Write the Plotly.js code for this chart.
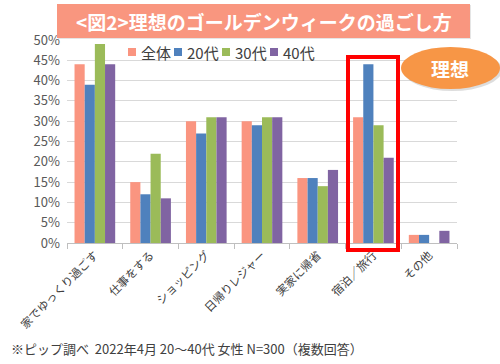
<!DOCTYPE html>
<html>
<head>
<meta charset="utf-8">
<script src="https://cdn.plot.ly/plotly-3.0.1.min.js"></script>
<style>html,body{margin:0;padding:0;background:#fff}#chart{width:500px;height:364px}</style>
</head>
<body>
<div id="chart"></div>
<script>
const categories = ["家でゆっくり過ごす","仕事をする","ショッピング","日帰りレジャー","実家に帰省","宿泊／旅行","その他"];
const seriesNames = ["全体","20代","30代","40代"];
const allAges = [0.44,0.15,0.30,0.30,0.16,0.31,0.02];
const age20 = [0.39,0.12,0.27,0.29,0.16,0.44,0.02];
const age30 = [0.49,0.22,0.31,0.31,0.14,0.29,0.00];
const age40 = [0.44,0.11,0.31,0.31,0.18,0.21,0.03];
const yTicks = [0,0.05,0.10,0.15,0.20,0.25,0.30,0.35,0.40,0.45,0.50];
const yTickText = ["0%","5%","10%","15%","20%","25%","30%","35%","40%","45%","50%"];
const titleText = "<図2>理想のゴールデンウィークの過ごし方";
const badgeText = "理想";
const noteText = "※ピップ調べ  2022年4月 20〜40代 女性 N=300（複数回答）";

const colors = ["#FA9580","#4F81BD","#9BBB59","#8064A2"];
const values = [allAges, age20, age30, age40];
const font = '"Noto Sans CJK JP", "Noto Sans", sans-serif';

const traces = values.map((v,i)=>({
  type:'bar', name: seriesNames[i], x: categories, y: v,
  marker:{color: colors[i]}, hoverinfo:'skip'
}));

// pixel -> paper helpers
const L=67, R=457, T=40, B=243;
const px = x => (x-L)/(R-L);
const py = y => (B-y)/(B-T);

const shapes = [
  {type:'rect', xref:'paper', yref:'paper', x0:px(58), x1:px(471), y0:py(39), y1:py(5),
   fillcolor:'rgba(150,150,150,0.25)', line:{width:0}, layer:'above'},
  {type:'rect', xref:'paper', yref:'paper', x0:px(57), x1:px(470), y0:py(38), y1:py(4),
   fillcolor:'#F9967F', line:{width:0}, layer:'above'},
  {type:'rect', xref:'paper', yref:'paper', x0:px(348), x1:px(398), y0:py(250), y1:py(57),
   fillcolor:'rgba(0,0,0,0)', line:{color:'#FF0000', width:4}, layer:'above'},
  {type:'circle', xref:'paper', yref:'paper', x0:px(403), x1:px(502), y0:py(91), y1:py(49),
   fillcolor:'rgba(120,120,120,0.25)', line:{width:0}, layer:'above'},
  {type:'circle', xref:'paper', yref:'paper', x0:px(401), x1:px(500), y0:py(89), y1:py(47),
   fillcolor:'#F79646', line:{width:0}, layer:'above'}
];
const annotations = [
  {text:titleText, xref:'paper', yref:'paper', x:px(264), y:py(21), showarrow:false,
   xanchor:'center', yanchor:'middle', font:{size:19, color:'#FFFFFF', family:font, weight:700}},
  {text:badgeText, xref:'paper', yref:'paper', x:px(450), y:py(68), showarrow:false,
   xanchor:'center', yanchor:'middle', font:{size:19, color:'#FFFFFF', family:font, weight:700}},
  {text:noteText, xref:'paper', yref:'paper', x:px(9), y:py(348), showarrow:false,
   xanchor:'left', yanchor:'middle', font:{size:13, color:'#404040', family:font}}
];
// custom legend
const legendX = [128, 174, 222, 270];
seriesNames.forEach((n,i)=>{
  const x0 = legendX[i];
  shapes.push({type:'rect', xref:'paper', yref:'paper', x0:px(x0), x1:px(x0+8), y0:py(56), y1:py(48),
    fillcolor:colors[i], line:{width:0}});
  annotations.push({text:n, xref:'paper', yref:'paper', x:px(x0+11), y:py(52), showarrow:false,
    xanchor:'left', yanchor:'middle', font:{size:15, color:'#404040', family:font}});
});

const layout = {
  width:500, height:364,
  margin:{l:L, r:500-R, t:T, b:364-B},
  paper_bgcolor:'#fff', plot_bgcolor:'#fff',
  font:{family:font, color:'#595959'},
  barmode:'group', bargap:0.27, bargroupgap:0,
  showlegend:false,
  xaxis:{type:'category', tickangle:-45, tickfont:{size:11.5, color:'#404040'},
         showline:true, linecolor:'#BFBFBF', linewidth:1,
         ticks:'outside', tickson:'boundaries', ticklen:5, tickcolor:'#BFBFBF',
         showgrid:false, fixedrange:true},
  yaxis:{range:[0,0.5], tickvals:yTicks, ticktext:yTickText,
         tickfont:{size:13, color:'#595959'}, showgrid:true, gridcolor:'#D9D9D9',
         gridwidth:1, zeroline:false, showline:false, ticks:'', ticklabelstandoff:6, fixedrange:true},
  shapes:shapes,
  annotations:annotations
};

Plotly.newPlot('chart', traces, layout, {displayModeBar:false, staticPlot:true});
</script>
</body>
</html>
